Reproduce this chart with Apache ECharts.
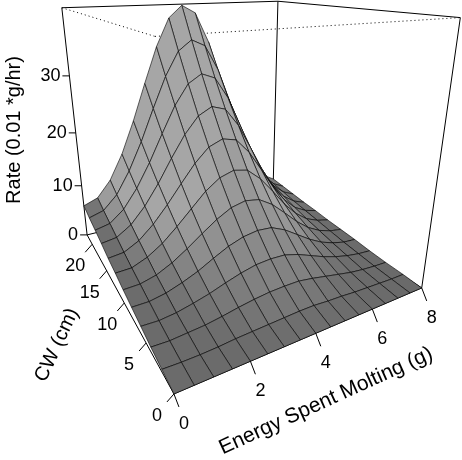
<!DOCTYPE html>
<html>
<head>
<meta charset="utf-8">
<script src="https://cdn.jsdelivr.net/npm/echarts@6/dist/echarts.min.js"></script>
<style>html,body{margin:0;padding:0;background:#fff}#chart{width:462px;height:460px}</style>
</head>
<body>
<div id="chart"></div>
<script>
// grid values
var energy = [0, 0.5, 1, 1.5, 2, 2.5, 3, 3.5, 4, 4.5, 5, 5.5, 6, 6.5, 7, 7.5, 8]
var cw = [0, 2, 4, 6, 8, 10, 12, 14, 16, 18, 20, 22]
var rate = [
  [0, 0, 0, 0, 0, 0, 0, 0, 0, 0, 0, 0, 0, 0, 0, 0, 0],
  [0.4, 0.3, 0.3, 0.4, 0.6, 0.7, 0.8, 0.9, 1.0, 1.0, 0.8, 0.7, 0.5, 0.4, 0.3, 0.2, 0.2],
  [0.8, 0.7, 0.9, 1.1, 1.5, 2.0, 2.4, 2.7, 2.8, 2.8, 2.4, 1.9, 1.4, 0.9, 0.6, 0.4, 0.3],
  [1.3, 1.2, 1.5, 2.1, 2.8, 3.7, 4.5, 5.1, 5.3, 5.2, 4.5, 3.5, 2.5, 1.7, 1.1, 0.7, 0.5],
  [1.8, 1.8, 2.3, 3.2, 4.3, 5.7, 7.0, 7.9, 8.3, 8.1, 7.0, 5.4, 3.8, 2.5, 1.6, 1.0, 0.8],
  [2.3, 2.4, 3.1, 4.4, 6.1, 8.0, 9.8, 11.2, 11.8, 11.4, 9.9, 7.7, 5.4, 3.5, 2.2, 1.4, 1.0],
  [2.9, 3.0, 4.1, 5.8, 8.1, 10.6, 13.1, 14.9, 15.7, 15.2, 13.1, 10.2, 7.1, 4.6, 2.8, 1.8, 1.2],
  [3.4, 3.7, 5.1, 7.4, 10.3, 13.5, 16.6, 19.0, 20.0, 19.4, 16.7, 12.9, 9.0, 5.8, 3.5, 2.2, 1.5],
  [4.1, 4.5, 6.2, 9.0, 12.6, 16.7, 20.5, 23.4, 24.7, 23.9, 20.6, 15.9, 11.1, 7.1, 4.3, 2.6, 1.7],
  [4.7, 5.3, 7.4, 10.8, 15.1, 20.0, 24.7, 28.2, 29.7, 28.7, 24.8, 19.1, 13.3, 8.5, 5.1, 3.1, 2.0],
  [5.3, 6.1, 8.6, 12.7, 17.8, 23.6, 29.1, 33.3, 35.1, 33.9, 29.3, 22.6, 15.7, 10.0, 5.9, 3.5, 2.3],
  [6.0, 7.0, 10.0, 14.7, 20.7, 27.4, 33.8, 38.7, 40.8, 39.4, 34.0, 26.2, 18.2, 11.5, 6.8, 4.0, 2.6]
]
var energyTicks = [0, 2, 4, 6, 8]
var cwTicks = [0, 5, 10, 15, 20]
var rateTicks = [0, 10, 20, 30]
var eMax = 8, cMax = 22, zMax = 41

// camera: fit a 3x4 projection to where the box corners sit in the picture
var calib = [
  [0, 0, 0, 177, 395], [1, 0, 0, 420, 287], [0, 1, 0, 87, 238], [0, 1, 1, 62, 9],
  [1, 0, 1, 460, 17], [1, 1, 1, 279, 1], [0, 0, 1, 152, 37],
  [0.25, 0, 0, 252, 363], [0.5, 0, 0, 317, 335], [0.75, 0, 0, 372, 310],
  [0, 5 / 22, 0, 147, 342], [0, 10 / 22, 0, 123, 300], [0, 15 / 22, 0, 105, 267],
  [0, 1, 10 / 41, 81, 187], [0, 1, 20 / 41, 76, 132], [0, 1, 30 / 41, 70, 75]
]
function fitCamera(pts) {
  var A = [], b = []
  pts.forEach(function(p) {
    var X = p[0], Y = p[1], Z = p[2], x = p[3], y = p[4]
    A.push([X, Y, Z, 1, 0, 0, 0, 0, -x * X, -x * Y, -x * Z]); b.push(x)
    A.push([0, 0, 0, 0, X, Y, Z, 1, -y * X, -y * Y, -y * Z]); b.push(y)
  })
  var n = 11, M = []
  for (var i = 0; i < n; i++) {
    M.push([])
    for (var j = 0; j <= n; j++) {
      var s = 0
      for (var k = 0; k < A.length; k++) s += A[k][i] * (j < n ? A[k][j] : b[k])
      M[i].push(s)
    }
  }
  for (var c = 0; c < n; c++) {
    var piv = c
    for (var r = c + 1; r < n; r++) if (Math.abs(M[r][c]) > Math.abs(M[piv][c])) piv = r
    var t = M[c]; M[c] = M[piv]; M[piv] = t
    for (var r2 = 0; r2 < n; r2++) {
      if (r2 == c) continue
      var f = M[r2][c] / M[c][c]
      for (var j2 = c; j2 <= n; j2++) M[r2][j2] -= f * M[c][j2]
    }
  }
  var P = []
  for (var q = 0; q < n; q++) P.push(M[q][n] / M[q][q])
  return P
}
var P = fitCamera(calib)
function depth(e, c, z) { return P[8] * e / eMax + P[9] * c / cMax + P[10] * z / zMax + 1 }
function proj(e, c, z) {
  var X = e / eMax, Y = c / cMax, Z = z / zMax
  var w = P[8] * X + P[9] * Y + P[10] * Z + 1
  return [(P[0] * X + P[1] * Y + P[2] * Z + P[3]) / w, (P[4] * X + P[5] * Y + P[6] * Z + P[7]) / w]
}

// surface cells, far ones first
var cells = []
for (var j = 0; j < cw.length - 1; j++) {
  for (var i = 0; i < energy.length - 1; i++) {
    cells.push([energy[i], energy[i + 1], cw[j], cw[j + 1],
      rate[j][i], rate[j][i + 1], rate[j + 1][i + 1], rate[j + 1][i]])
  }
}
var dir = depth(eMax, cMax, 0) > depth(0, 0, 0) ? 1 : -1
cells.sort(function(a, b) {
  var da = depth((a[0] + a[1]) / 2, (a[2] + a[3]) / 2, (a[4] + a[5] + a[6] + a[7]) / 4)
  var db = depth((b[0] + b[1]) / 2, (b[2] + b[3]) / 2, (b[4] + b[5] + b[6] + b[7]) / 4)
  return dir * (db - da)
})

function renderCell(params, api) {
  var e0 = api.value(0), e1 = api.value(1), c0 = api.value(2), c1 = api.value(3)
  var z00 = api.value(4), z10 = api.value(5), z11 = api.value(6), z01 = api.value(7)
  // normal in box-normalised space
  var du = (e1 - e0) / eMax, dv = (c1 - c0) / cMax
  var dzdu = ((z10 + z11) - (z00 + z01)) / 2 / zMax / du
  var dzdv = ((z01 + z11) - (z00 + z10)) / 2 / zMax / dv
  var nz = 1 / Math.sqrt(dzdu * dzdu + dzdv * dzdv + 1)
  var g = Math.round(106 + 60 * Math.min(1, 2.5 * (1 - nz)))
  return {
    type: 'polygon',
    shape: { points: [proj(e0, c0, z00), proj(e1, c0, z10), proj(e1, c1, z11), proj(e0, c1, z01)] },
    style: { fill: 'rgb(' + g + ',' + g + ',' + g + ')', stroke: '#000', lineWidth: 0.6 }
  }
}

var font = '"Liberation Sans", Arial, sans-serif'
var back = [], front = []
function line(list, a, b, dotted) {
  list.push({ type: 'line', z: list === back ? 0 : 10, silent: true,
    shape: { x1: a[0], y1: a[1], x2: b[0], y2: b[1] },
    style: { stroke: '#000', lineWidth: 1, lineDash: dotted ? [1, 3] : null } })
}
function label(p, txt, align, size, rot) {
  front.push({ type: 'text', z: 10, silent: true, x: p[0], y: p[1], rotation: rot || 0,
    style: { text: txt, fill: '#000', font: size + 'px ' + font, align: align, verticalAlign: 'middle' } })
}
var C = {
  fl: proj(0, 0, 0), fr: proj(eMax, 0, 0), bl: proj(0, cMax, 0), bb: proj(eMax, cMax, 0),
  tfl: proj(0, 0, zMax), tfr: proj(eMax, 0, zMax), tbl: proj(0, cMax, zMax), tbb: proj(eMax, cMax, zMax)
}
line(back, C.bl, C.bb); line(back, C.bb, C.fr); line(back, C.bb, C.tbb)
line(back, C.tbl, C.tfl, true); line(back, C.tfl, C.tfr, true)
line(back, C.tbl, C.tbb); line(back, C.tbb, C.tfr)
line(back, C.bl, C.tbl); line(back, C.fr, C.tfr)
line(back, C.fl, C.fr); line(back, C.fl, C.bl)

energyTicks.forEach(function(v) {
  var p = proj(v, 0, 0)
  line(front, p, [p[0] + 5, p[1] + 13])
  label([p[0] + 10, p[1] + 30], String(v), 'center', 18)
})
cwTicks.forEach(function(v) {
  var p = proj(0, v, 0)
  line(front, p, [p[0] - 7, p[1] + 8])
  label([p[0] - 17, p[1] + 22], String(v), 'center', 18)
})
rateTicks.forEach(function(v) {
  var p = proj(0, cMax, v)
  line(front, p, [p[0] - 7, p[1]])
  label([p[0] - 9, p[1]], String(v), 'right', 18)
})
label([14, 130], 'Rate (0.01 *g/hr)', 'center', 20, Math.PI / 2)
label([57, 345], 'CW (cm)', 'center', 20, 65 * Math.PI / 180)
label([326, 401], 'Energy Spent Molting (g)', 'center', 21, 24.5 * Math.PI / 180)

var chart = echarts.init(document.getElementById('chart'))
chart.setOption({
  animation: false,
  graphic: back.concat(front),
  series: [{
    type: 'custom',
    coordinateSystem: 'none',
    z: 5,
    silent: true,
    renderItem: renderCell,
    data: cells
  }]
})
</script>
</body>
</html>
